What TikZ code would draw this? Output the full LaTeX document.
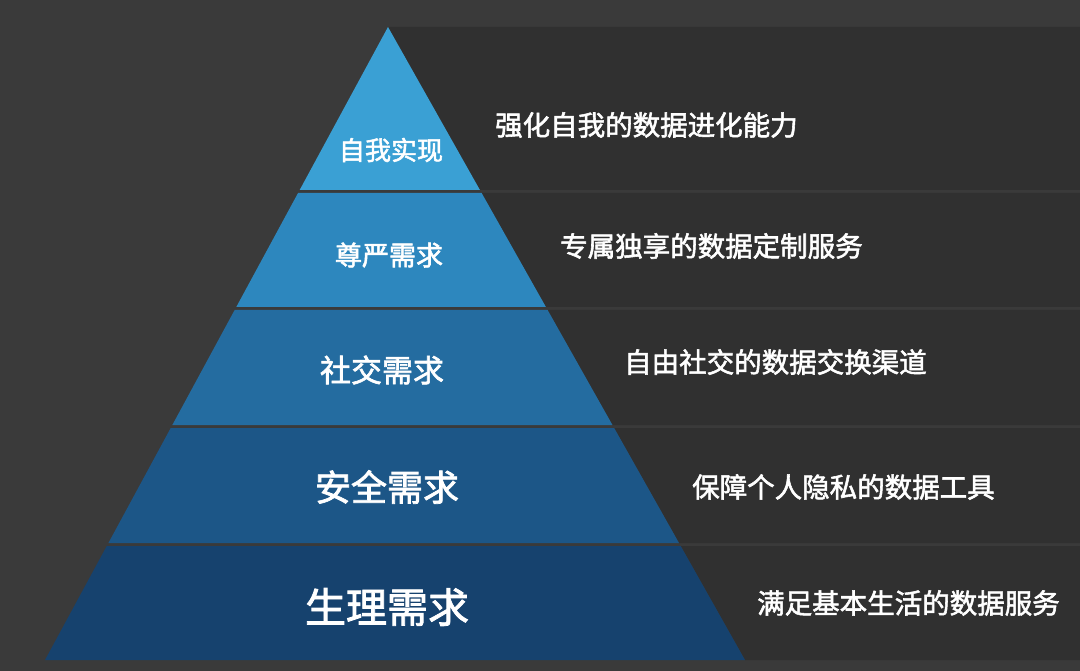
\documentclass[tikz,border=0pt]{standalone}
\usepackage{fontspec}
\newfontfamily\cjk{Noto Sans CJK SC}[AutoFakeBold=2]
\begin{document}
\begin{tikzpicture}[x=1pt,y=-1pt,
 lab/.style={text=white,font=\cjk\bfseries,inner sep=0pt},
 desc/.style={text=white,font=\cjk\bfseries\fontsize{27.5}{29}\selectfont,inner sep=0pt}]
\fill[fill={rgb,255:red,58;green,58;blue,58}] (0,0) rectangle (1080,671);
\useasboundingbox (0,0) rectangle (1080,671);
% shadows
\foreach \ya/\yb in {27/190,193/307,310/425,428/543,546/660}{
 \pgfmathsetmacro{\xa}{388+(\ya-27)*0.56398}
 \pgfmathsetmacro{\xb}{388+(\yb-27)*0.56398}
 \fill[black,opacity=0.16] (\xa,\ya) -- (1080,\ya) -- (1080,\yb) -- (\xb,\yb) -- cycle;
}
% layers
\def\lay#1#2#3{%
 \pgfmathsetmacro{\la}{388-(#1-27)*0.54186}\pgfmathsetmacro{\ra}{388+(#1-27)*0.56398}
 \pgfmathsetmacro{\lb}{388-(#2-27)*0.54186}\pgfmathsetmacro{\rb}{388+(#2-27)*0.56398}
 \fill[fill=#3] (\la,#1) -- (\ra,#1) -- (\rb,#2) -- (\lb,#2) -- cycle;}
\definecolor{c1}{RGB}{58,160,212}
\definecolor{c2}{RGB}{45,135,190}
\definecolor{c3}{RGB}{36,108,160}
\definecolor{c4}{RGB}{28,86,135}
\definecolor{c5}{RGB}{22,66,110}
\lay{27}{190}{c1}
\lay{193}{307}{c2}
\lay{310}{425}{c3}
\lay{428}{543}{c4}
\lay{546}{660}{c5}
\node[lab,font=\cjk\bfseries\fontsize{26}{28}\selectfont] (l1) at (391,150) {自我实现};
\node[lab,font=\cjk\bfseries\fontsize{27}{29}\selectfont] (l2) at (389,255) {尊严需求};
\node[lab,font=\cjk\bfseries\fontsize{31}{33}\selectfont] (l3) at (382,370) {社交需求};
\node[lab,font=\cjk\bfseries\fontsize{36}{38}\selectfont] (l4) at (387,487) {安全需求};
\node[lab,font=\cjk\bfseries\fontsize{41}{43}\selectfont] (l5) at (387,607) {生理需求};
\node[desc,anchor=west] (d1) at (495,125) {强化自我的数据进化能力};
\node[desc,anchor=west] (d2) at (560,246) {专属独享的数据定制服务};
\node[desc,anchor=west] (d3) at (624,362) {自由社交的数据交换渠道};
\node[desc,anchor=west] (d4) at (692,487) {保障个人隐私的数据工具};
\node[desc,anchor=west] (d5) at (757,603) {满足基本生活的数据服务};
\end{tikzpicture}
\end{document}
